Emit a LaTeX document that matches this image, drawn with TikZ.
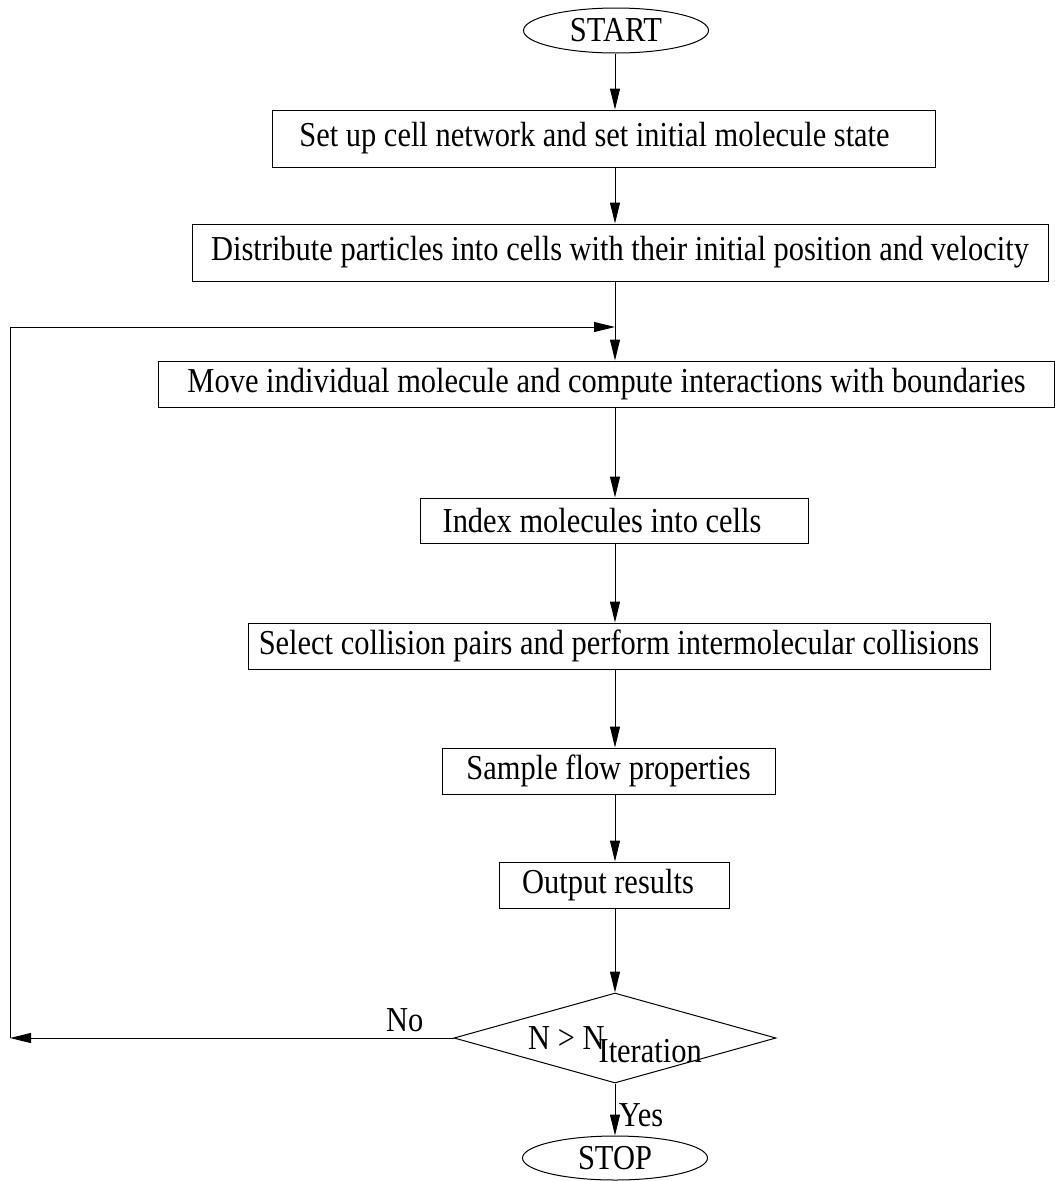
\documentclass[tikz,border=0pt]{standalone}
\usepackage{fontspec}
\setmainfont{Liberation Serif}[FakeStretch=0.87]
\usetikzlibrary{positioning,arrows.meta,shapes.geometric}

\begin{document}
\begin{tikzpicture}[x=1pt,y=-1pt,>={Triangle[length=21pt,width=10pt]},
  font=\fontsize{35}{40}\selectfont, line width=1pt,
  stepbox/.style={draw,rectangle,inner sep=0pt,minimum height=46},
  term/.style={draw,ellipse,inner sep=0pt,minimum width=185,minimum height=45}]
\useasboundingbox (0,0) rectangle (1055,1181);
% terminals and steps
\node[term] (start) at (616,30.5) {START};
\node[stepbox,minimum width=663,minimum height=57] (setup) at (603.5,138.5) {Set up cell network and set initial molecule state\hspace*{18pt}};
\node[stepbox,minimum width=856,minimum height=57] (distr) at (620,252.5) {Distribute particles into cells with their initial position and velocity};
\node[stepbox,minimum width=896] (move) at (606.5,384) {Move individual molecule and compute interactions with boundaries};
\node[stepbox,minimum width=388,minimum height=45] (index) at (614,520.5) {Index molecules into cells\hspace*{24pt}};
\node[stepbox,minimum width=742] (collide) at (619,646) {Select collision pairs and perform intermolecular collisions};
\node[stepbox,minimum width=333] (sample) at (608.5,771) {Sample flow properties};
\node[stepbox,minimum width=230] (output) at (614,885) {Output results\hspace*{12pt}};
\node[draw,diamond,aspect=3,inner sep=0pt,minimum width=322,minimum height=90] (test) at (615,1038) {N > N\kern-6pt\smash{\raisebox{-13pt}{Iteration}}};
\node[term,minimum height=44] (stop) at (615,1158) {STOP};
\coordinate (back) at (10,327);
% main flow
\draw[->] (start.south -| test) -- (setup.north -| test);
\draw[->] (setup.south -| test) -- (distr.north -| test);
\draw[->] (distr.south -| test) -- (move.north -| test);
\draw[->] (move.south -| test) -- (index.north -| test);
\draw[->] (index.south -| test) -- (collide.north -| test);
\draw[->] (collide.south -| test) -- (sample.north -| test);
\draw[->] (sample.south -| test) -- (output.north -| test);
\draw[->] (output.south -| test) -- (test.north);
\draw[->] (test.south) -- (stop.north) node[pos=0.6,right=0pt] {Yes};
% loop back
\draw[->] (test.west) -- (test.west -| back) node[pos=0.11,above=2pt] {No};
\draw[->] (test.west -| back) -- (back) -- (back -| test);
\end{tikzpicture}
\end{document}
